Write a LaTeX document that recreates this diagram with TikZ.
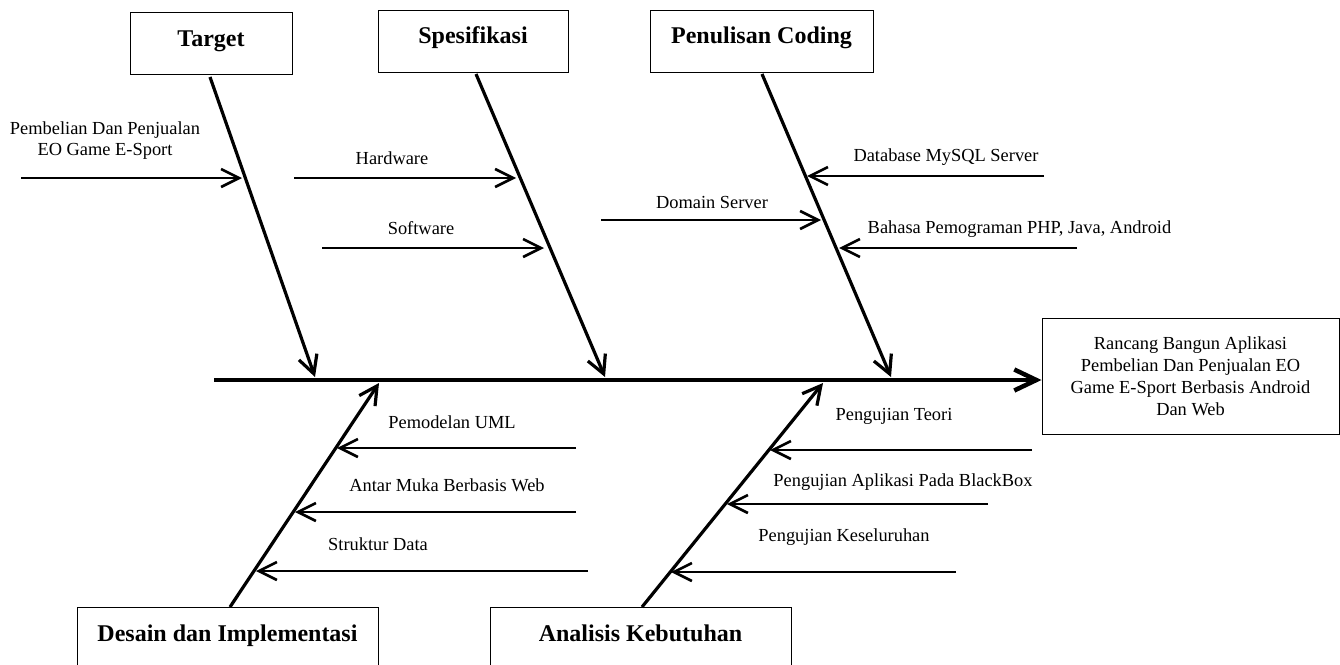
\documentclass[tikz,border=0pt]{standalone}
\usepackage{fontspec}
\setmainfont{Liberation Serif}
\usetikzlibrary{arrows.meta}
\begin{document}
\begin{tikzpicture}[x=1pt,y=-1pt,
  box/.style={draw,line width=1pt,inner sep=0pt},
  title/.style={font=\fontsize{24}{28}\selectfont\bfseries},
  lbl/.style={font=\fontsize{18.4}{22}\selectfont,anchor=base,inner sep=0pt},
  spine/.style={line width=4.5pt,-{Straight Barb[length=22pt,width=21pt]}},
  bone/.style={line width=3.2pt,-{Straight Barb[length=18pt,width=19pt]}},
  rib/.style={line width=2.6pt,-{Straight Barb[length=18pt,width=18pt]}}]
\clip (0,0) rectangle (1340,664);
% category boxes
\node[box,title,minimum width=162pt,minimum height=62pt,text height=17pt,text depth=11pt] (target) at (211,43) {Target};
\node[box,title,minimum width=190pt,minimum height=62pt,text height=17pt,text depth=13pt] (spek) at (473,41) {Spesifikasi};
\node[box,title,minimum width=223pt,minimum height=62pt,text height=17pt,text depth=13pt] (coding) at (761.5,41) {Penulisan Coding};
\node[box,title,minimum width=301pt,minimum height=65pt,text height=17pt,text depth=14pt] (desain) at (227.5,639.5) {Desain dan Implementasi};
\node[box,title,minimum width=301pt,minimum height=65pt,text height=17pt,text depth=14pt] (analisis) at (640.5,639.5) {Analisis Kebutuhan};
\node[box,minimum width=297pt,minimum height=116pt,align=center,font=\fontsize{18.4}{22}\selectfont] (hasil) at (1190.5,376) {Rancang Bangun Aplikasi\\Pembelian Dan Penjualan EO\\Game E-Sport Berbasis Android\\Dan Web};
% spine
\coordinate (sp0) at (214,380);
\draw[spine] (sp0) -- (hasil.west |- sp0);
% bone coordinates
\coordinate (tgA) at (210,77);   \coordinate (tgB) at (315,377);
\coordinate (spA) at (476,74);   \coordinate (spB) at (605,377);
\coordinate (cdA) at (762,74);   \coordinate (cdB) at (891,377);
\coordinate (dsA) at (230,607);  \coordinate (dsB) at (379,383);
\coordinate (anA) at (642,607);  \coordinate (anB) at (823,383);
\draw[bone] (tgA) -- (tgB);
\draw[bone] (spA) -- (spB);
\draw[bone] (cdA) -- (cdB);
\draw[bone] (dsA) -- (dsB);
\draw[bone] (anA) -- (anB);
% ribs: start and tip coordinates
\coordinate (r1a) at (21,178);   \coordinate (r1b) at (242,178);
\coordinate (r2a) at (294,178);  \coordinate (r2b) at (516,178);
\coordinate (r3a) at (322,248);  \coordinate (r3b) at (544,248);
\coordinate (r4a) at (601,220);  \coordinate (r4b) at (821,220);
\coordinate (r5a) at (1044,176); \coordinate (r5b) at (807,176);
\coordinate (r6a) at (1077,248); \coordinate (r6b) at (839,248);
\coordinate (r7a) at (576,448);  \coordinate (r7b) at (337,448);
\coordinate (r8a) at (576,512);  \coordinate (r8b) at (295,512);
\coordinate (r9a) at (588,571);  \coordinate (r9b) at (256,571);
\coordinate (r10a) at (1032,450); \coordinate (r10b) at (770,450);
\coordinate (r11a) at (988,504);  \coordinate (r11b) at (727,504);
\coordinate (r12a) at (956,572);  \coordinate (r12b) at (671,572);
\foreach \i in {1,...,12} {\draw[rib] (r\i a) -- (r\i b);}
% labels
\node[font=\fontsize{18.4}{21}\selectfont,align=center,inner sep=0pt] (l1) at (105,140.5) {Pembelian Dan Penjualan\\EO Game E-Sport};
\node[lbl] (l2) at (392,164) {Hardware};
\node[lbl] (l3) at (421,234) {Software};
\node[lbl] (l4) at (712,208) {Domain Server};
\node[lbl] (l5) at (946,161) {Database MySQL Server};
\node[lbl] (l6) at (1019.5,233) {Bahasa Pemograman PHP, Java, Android};
\node[lbl] (l7) at (452,428) {Pemodelan UML};
\node[lbl] (l8) at (447,491) {Antar Muka Berbasis Web};
\node[lbl] (l9) at (378,550) {Struktur Data};
\node[lbl] (l10) at (894,420) {Pengujian Teori};
\node[lbl] (l11) at (903,486) {Pengujian Aplikasi Pada BlackBox};
\node[lbl] (l12) at (844,541) {Pengujian Keseluruhan};
\end{tikzpicture}
\end{document}
